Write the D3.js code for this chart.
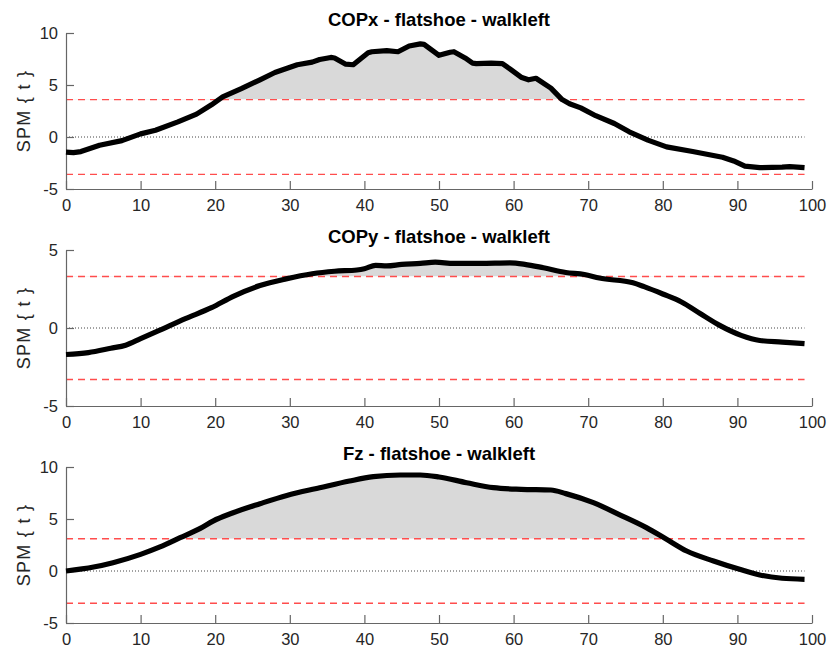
<!DOCTYPE html>
<html>
<head>
<meta charset="utf-8">
<script src="https://cdn.jsdelivr.net/npm/d3@7"></script>
<style>
  body { margin: 0; background: #fff; }
  svg { display: block; font-family: "Liberation Sans", Arial, Helvetica, sans-serif; }
</style>
</head>
<body>
<svg id="chart" width="827" height="650"></svg>
<script>
// ---------- data ----------
const titles = ["COPx - flatshoe - walkleft", "COPy - flatshoe - walkleft", "Fz - flatshoe - walkleft"];
const yLabel = "SPM { t }";
const xTicks = [0, 10, 20, 30, 40, 50, 60, 70, 80, 90, 100];
const yTicksA = [-5, 0, 5, 10];
const yTicksB = [-5, 0, 5];
const thresholds = [3.6, 3.3, 3.1];

const copxX = [0, 1, 2, 4.5, 7.5, 10, 12, 15, 17.5, 19.5, 21, 23.5, 26, 28, 31, 33, 34, 35.5, 36, 37.5, 38.5, 40.5, 41, 43, 44.5, 46, 47.5, 48, 50, 51.5, 52, 53.5, 54.5, 55, 57, 58.5, 59.5, 61, 62, 63, 65, 66.5, 67.5, 69, 71, 73.5, 75.5, 78, 80.5, 84, 88, 89.5, 91, 93, 96, 97, 99];
const copxY = [-1.45, -1.5, -1.4, -0.8, -0.35, 0.3, 0.65, 1.45, 2.2, 3.1, 3.85, 4.65, 5.5, 6.2, 6.95, 7.2, 7.45, 7.65, 7.6, 7.0, 6.95, 8.1, 8.2, 8.3, 8.2, 8.75, 8.95, 8.9, 7.85, 8.15, 8.2, 7.6, 7.1, 7.05, 7.1, 7.05, 6.55, 5.75, 5.5, 5.65, 4.7, 3.6, 3.2, 2.8, 2.05, 1.3, 0.5, -0.3, -0.95, -1.4, -1.95, -2.3, -2.8, -2.95, -2.9, -2.85, -2.95];

const copyX = [0, 3, 6, 8, 10, 12.5, 16, 19.5, 22.5, 26, 29.5, 33, 36, 39, 40, 41.5, 43, 45, 47.5, 49.5, 52, 55.5, 59.5, 61.5, 64, 67, 69.5, 71.5, 76, 77.5, 80, 82.5, 85, 87.5, 90.5, 93, 96, 99];
const copyY = [-1.7, -1.58, -1.3, -1.1, -0.68, -0.15, 0.6, 1.3, 2.05, 2.72, 3.15, 3.48, 3.64, 3.72, 3.8, 4.02, 3.98, 4.08, 4.14, 4.22, 4.14, 4.14, 4.17, 4.08, 3.86, 3.56, 3.43, 3.2, 2.9, 2.65, 2.18, 1.67, 0.93, 0.2, -0.47, -0.8, -0.9, -1.0];

const fzX = [0, 3.7, 6.3, 10, 12.6, 15.3, 18, 19.7, 22.4, 26, 29.6, 34, 38, 41.2, 44.8, 47.5, 50, 53.7, 57.3, 61, 65, 67, 70.7, 74.3, 77.8, 80.5, 83.2, 86.8, 90.3, 93, 96, 99];
const fzY = [0.0, 0.38, 0.8, 1.6, 2.31, 3.2, 4.1, 4.8, 5.6, 6.47, 7.27, 8.0, 8.65, 9.07, 9.23, 9.23, 9.04, 8.49, 8.01, 7.85, 7.79, 7.44, 6.57, 5.38, 4.17, 3.05, 1.92, 0.96, 0.16, -0.38, -0.7, -0.8];

// ---------- layout ----------
const panels = [
  { title: titles[0], xs: copxX, ys: copxY, thr: thresholds[0], dom: [-5, 10], ticks: yTicksA, top: 33, curve: d3.curveLinear },
  { title: titles[1], xs: copyX, ys: copyY, thr: thresholds[1], dom: [-5, 5], ticks: yTicksB, top: 250, curve: d3.curveMonotoneX },
  { title: titles[2], xs: fzX, ys: fzY, thr: thresholds[2], dom: [-5, 10], ticks: yTicksA, top: 467, curve: d3.curveMonotoneX }
];
const plotH = 156;
const left = 66, right = 812;

const svg = d3.select("#chart");
const x = d3.scaleLinear().domain([0, 100]).range([left, right]);
const fmt = d => String(d);

panels.forEach((p, i) => {
  const top = p.top, bottom = top + plotH;
  const y = d3.scaleLinear().domain(p.dom).range([bottom, top]);
  const data = p.xs.map((v, k) => [v, p.ys[k]]);
  const xMax = d3.max(p.xs);
  const g = svg.append("g");

  // clip above threshold
  const clipId = "clip" + i;
  svg.append("clipPath").attr("id", clipId)
    .append("rect")
    .attr("x", left).attr("y", top - 20)
    .attr("width", right - left)
    .attr("height", y(p.thr) - (top - 20));

  const area = d3.area()
    .x(d => x(d[0]))
    .y0(y(p.thr))
    .y1(d => y(d[1]))
    .curve(p.curve);
  g.append("path")
    .datum(data)
    .attr("clip-path", `url(#${clipId})`)
    .attr("fill", "#d9d9d9")
    .attr("d", area);

  // zero dotted line
  g.append("line")
    .attr("x1", x(0)).attr("x2", x(xMax))
    .attr("y1", y(0)).attr("y2", y(0))
    .attr("stroke", "#444").attr("stroke-width", 1)
    .attr("stroke-dasharray", "1,2");

  // threshold lines
  [p.thr, -p.thr].forEach(t => {
    g.append("line")
      .attr("x1", x(0)).attr("x2", x(xMax))
      .attr("y1", y(t)).attr("y2", y(t))
      .attr("stroke", "#ff4d4d").attr("stroke-width", 1.3)
      .attr("stroke-dasharray", "7,5");
  });

  // axes
  const xAxis = d3.axisBottom(x).tickValues(xTicks).tickFormat(fmt).tickSize(-8).tickSizeOuter(0).tickPadding(10);
  const gx = g.append("g").attr("transform", `translate(0,${bottom})`).call(xAxis);
  const yAxis = d3.axisLeft(y).tickValues(p.ticks).tickFormat(fmt).tickSize(-8).tickSizeOuter(0).tickPadding(8);
  const gy = g.append("g").attr("transform", `translate(${left},0)`).call(yAxis);
  [gx, gy].forEach(ax => {
    ax.select(".domain").attr("stroke", "#666").attr("stroke-width", 1.2);
    ax.selectAll(".tick line").attr("stroke", "#666").attr("stroke-width", 1.2);
    ax.selectAll(".tick text").attr("fill", "#262626")
      .style("font-size", "16.5px")
      .style("font-family", "'Liberation Sans', Arial, Helvetica, sans-serif");
  });

  // curve
  const line = d3.line().x(d => x(d[0])).y(d => y(d[1])).curve(p.curve);
  g.append("path")
    .datum(data)
    .attr("fill", "none")
    .attr("stroke", "#000")
    .attr("stroke-width", 5.2)
    .attr("stroke-linejoin", "round")
    .attr("stroke-linecap", "butt")
    .attr("d", line);

  // title
  g.append("text")
    .attr("x", (left + right) / 2)
    .attr("y", top - 7)
    .attr("text-anchor", "middle")
    .attr("font-weight", "bold")
    .attr("font-size", 18.5)
    .attr("fill", "#000")
    .text(p.title);

  // y label
  g.append("text")
    .attr("transform", `translate(25,${(top + bottom) / 2}) rotate(-90)`)
    .attr("text-anchor", "middle")
    .attr("dominant-baseline", "middle")
    .attr("font-size", 18)
    .attr("letter-spacing", "1.3px")
    .attr("fill", "#262626")
    .text(yLabel);
});
</script>
</body>
</html>
